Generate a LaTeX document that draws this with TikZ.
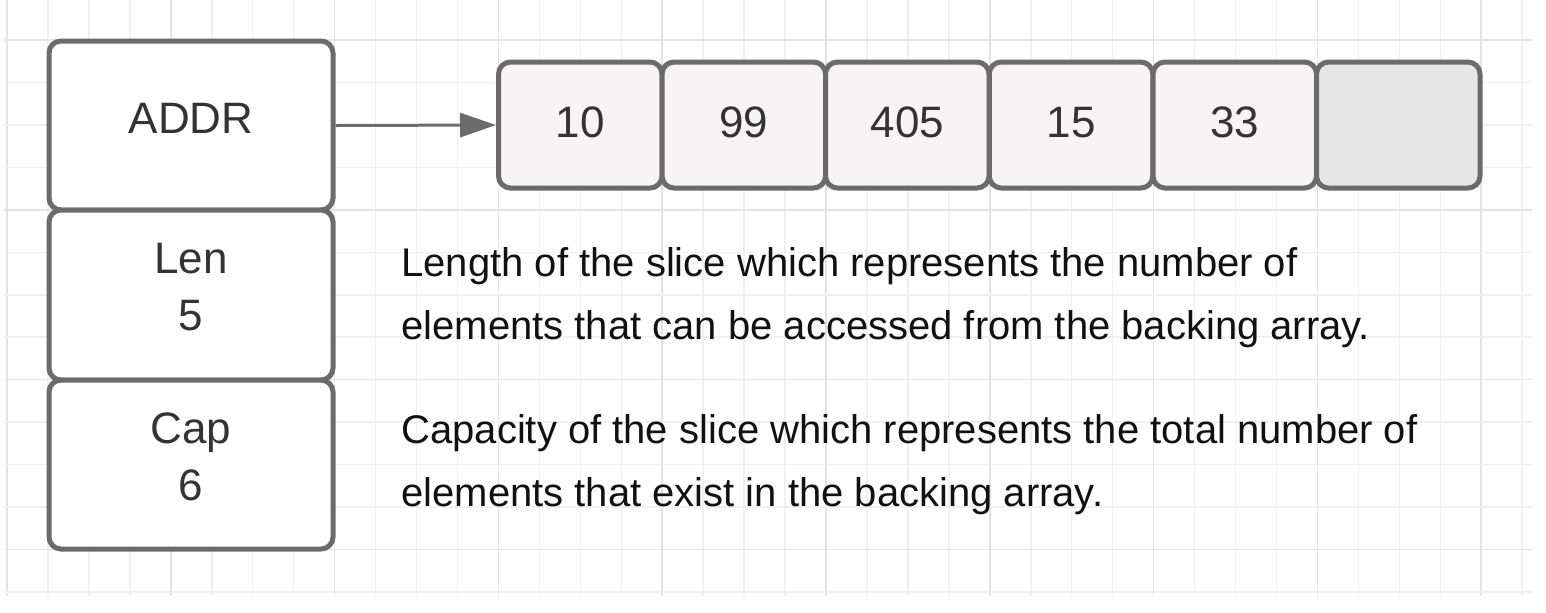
\documentclass[tikz,border=0pt]{standalone}
\usepackage{fontspec}
\setmainfont{Liberation Sans}
\usetikzlibrary{arrows.meta}
\definecolor{strokegray}{HTML}{6B6B6B}
\definecolor{cellfill}{HTML}{F6F4F5}
\definecolor{emptyfill}{HTML}{E6E6E6}
\definecolor{boxtext}{HTML}{333333}
\definecolor{desctext}{HTML}{111111}
\definecolor{gridminor}{HTML}{F0F0F0}
\definecolor{gridmajor}{HTML}{E3E3E3}
\tikzset{
  fieldbox/.style={draw=strokegray, line width=2.5pt, rounded corners=6pt, fill=white,
    minimum width=142pt, inner sep=0pt},
  cellbox/.style={draw=strokegray, line width=2.5pt, rounded corners=6pt, fill=cellfill,
    minimum width=81.75pt, minimum height=63pt, inner sep=0pt},
  boxlabel/.style={anchor=base, text=boxtext, font=\fontsize{22pt}{28.5pt}\selectfont, inner sep=0pt},
  desclabel/.style={anchor=base west, text=desctext, font=\fontsize{20pt}{31.5pt}\selectfont, inner sep=0pt, align=left},
  pointer/.style={draw=strokegray, line width=1.5pt, -{Triangle[length=18pt,width=12pt]}},
}
\begin{document}
\begin{tikzpicture}[x=0.5pt,y=-0.5pt]
\useasboundingbox (0,0) rectangle (1546,612);
\fill[white] (0,0) rectangle (1546,612);
% grid
\begin{scope}
\clip (4,0) rectangle (1532,596);
\foreach \k in {0,...,37}{
  \pgfmathsetmacro{\gx}{7+40.95*\k}
  \pgfmathtruncatemacro{\maj}{mod(\k,4)==0}
  \ifnum\maj=1 \draw[gridmajor, line width=0.75pt] (\gx,0) -- (\gx,596);
  \else \draw[gridminor, line width=0.75pt] (\gx,0) -- (\gx,596); \fi
}
\foreach \k in {0,...,13}{
  \pgfmathsetmacro{\gy}{40+42.46*\k}
  \pgfmathtruncatemacro{\maj}{mod(\k,4)==0}
  \ifnum\maj=1 \draw[gridmajor, line width=0.75pt] (4,\gy) -- (1532,\gy);
  \else \draw[gridminor, line width=0.75pt] (4,\gy) -- (1532,\gy); \fi
}
\end{scope}
% slice header fields
\node[fieldbox, minimum height=84.5pt] (addr) at (191,125.5) {};
\node[fieldbox, minimum height=85pt] (len) at (191,295) {};
\node[fieldbox, minimum height=84.5pt] (cap) at (191,464.5) {};
\node[boxlabel] (addrtext) at (191,133.3) {ADDR};
\node[boxlabel] (lentext) at (191,273.3) {Len};
\node[boxlabel] (lenval) at (191,330) {5};
\node[boxlabel] (captext) at (191,443) {Cap};
\node[boxlabel] (capval) at (191,500) {6};
% backing array
\node[cellbox] (c1) at (580.25,125) {};
\node[cellbox] (c2) at (743.75,125) {};
\node[cellbox] (c3) at (907.25,125) {};
\node[cellbox] (c4) at (1071,125) {};
\node[cellbox] (c5) at (1234.75,125) {};
\node[cellbox, fill=emptyfill] (c6) at (1398.25,125) {};
\node[boxlabel] (v1) at (580.25,137.3) {10};
\node[boxlabel] (v2) at (743.75,137.3) {99};
\node[boxlabel] (v3) at (907.25,137.3) {405};
\node[boxlabel] (v4) at (1071,137.3) {15};
\node[boxlabel] (v5) at (1234.75,137.3) {33};
% pointer
\draw[pointer] (addr.east) -- (c1.west);
% descriptions (base anchor = last line's baseline)
\node[desclabel] (lendesc) at (401,339) {Length of the slice which represents the number of\\elements that can be accessed from the backing array.};
\node[desclabel] (capdesc) at (401,506) {Capacity of the slice which represents the total number of\\elements that exist in the backing array.};
\end{tikzpicture}
\end{document}
